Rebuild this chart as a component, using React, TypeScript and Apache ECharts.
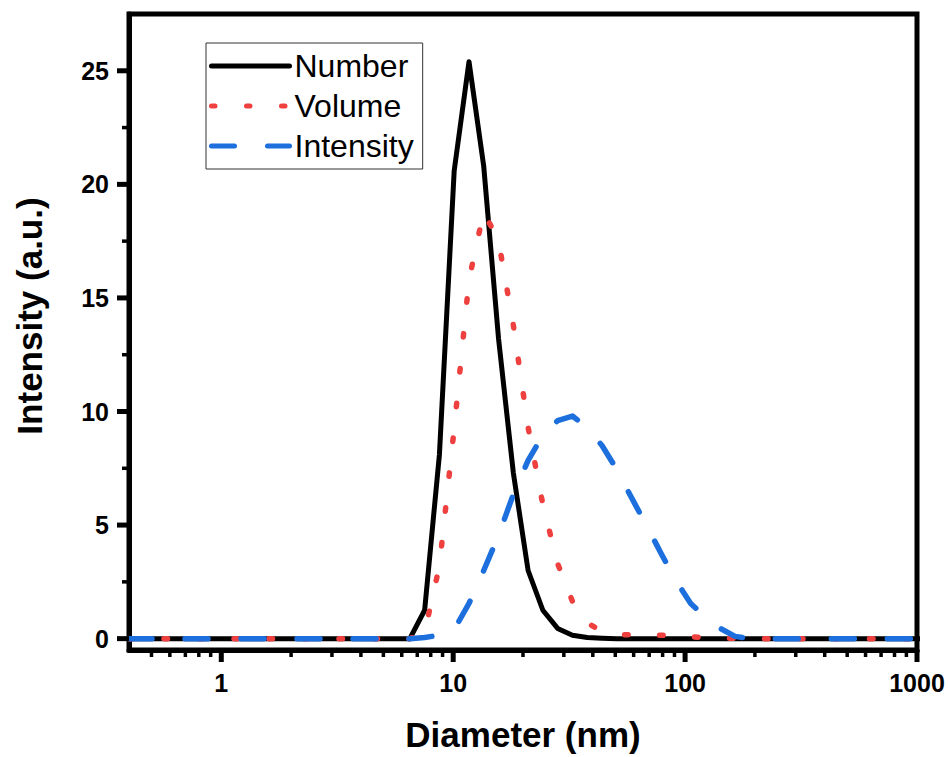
import React, { useEffect, useRef } from 'react';
import * as echarts from 'echarts';

// Size classes (nm)
const diameters = [
  0.4, 0.4632, 0.5365, 0.6213, 0.7195, 0.8332, 0.9649, 1.117, 1.294, 1.499,
  1.736, 2.01, 2.328, 2.696, 3.122, 3.615, 4.187, 4.849, 5.615, 6.503,
  7.531, 8.721, 10.1, 11.7, 13.54, 15.69, 18.17, 21.04, 24.36, 28.21,
  32.67, 37.84, 43.82, 50.75, 58.77, 68.06, 78.82, 91.28, 105.7, 122.4,
  141.8, 164.2, 190.1, 220.2, 255.0, 295.3, 342.0, 396.1, 458.7, 531.2,
  615.1, 712.4, 825.0, 955.4, 1106,
];

const numberDist = [
  0, 0, 0, 0, 0, 0, 0, 0, 0, 0,
  0, 0, 0, 0, 0, 0, 0, 0, 0, 0,
  1.25, 8.1, 20.6, 25.4, 20.8, 13.2, 7.3, 3.0, 1.25, 0.45,
  0.15, 0.05, 0.02, 0, 0, 0, 0, 0, 0, 0,
  0, 0, 0, 0, 0, 0, 0, 0, 0, 0,
  0, 0, 0, 0, 0,
];

const volumeDist = [
  0, 0, 0, 0, 0, 0, 0, 0, 0, 0,
  0, 0, 0, 0, 0, 0, 0, 0, 0, 0,
  0.28, 3.2, 9.25, 15.8, 18.8, 17.5, 13.8, 9.3, 5.9, 3.3,
  1.65, 0.7, 0.32, 0.18, 0.17, 0.17, 0.15, 0.12, 0.08, 0.05,
  0.03, 0.01, 0, 0, 0, 0, 0, 0, 0, 0,
  0, 0, 0, 0, 0,
];

const intensityDist = [
  0, 0, 0, 0, 0, 0, 0, 0, 0, 0,
  0, 0, 0, 0, 0, 0, 0, 0, 0, 0,
  0.05, 0.15, 0.4, 1.55, 3.0, 4.55, 6.35, 7.85, 8.95, 9.6,
  9.8, 9.3, 8.5, 7.45, 6.2, 5.0, 3.75, 2.55, 1.55, 0.95,
  0.45, 0.1, 0, 0, 0, 0, 0, 0, 0, 0,
  0, 0, 0, 0, 0,
];

const seriesNames = ['Number', 'Volume', 'Intensity'];
const xMajorTicks = [1, 10, 100, 1000];
const xMinorTicks = [
  0.5, 0.6, 0.7, 0.8, 0.9,
  2, 3, 4, 5, 6, 7, 8, 9,
  20, 30, 40, 50, 60, 70, 80, 90,
  200, 300, 400, 500, 600, 700, 800, 900,
];
const yMajorTicks = [0, 5, 10, 15, 20, 25];
const yMinorTicks = [2.5, 7.5, 12.5, 17.5, 22.5];

const FONT = 'Arial, "Liberation Sans", sans-serif';

function pairs(values: number[]) {
  return diameters.map((d, i) => [d, values[i]]);
}

const X_MIN = 0.4;
const X_MAX = 1000;
const Y_MIN = -0.5;
const Y_MAX = 27.5;

const MAJOR_LEN = 12;
const MAJOR_W = 5;
const MINOR_LEN = 7;
const MINOR_W = 3.5;

// One custom series draws every tick of both axes through the axes' own scales (api.coord).
// Each item: [x value, y value, axis flag (0 = x axis, 1 = y axis), major flag (1 = major)]
function buildTickItems() {
  const items: number[][] = [];
  xMajorTicks.forEach((v) => items.push([v, Y_MIN, 0, 1]));
  xMinorTicks.forEach((v) => items.push([v, Y_MIN, 0, 0]));
  yMajorTicks.forEach((v) => items.push([X_MIN, v, 1, 1]));
  yMinorTicks.forEach((v) => items.push([X_MIN, v, 1, 0]));
  return items;
}

export default function App() {
  const ref = useRef<HTMLDivElement>(null);

  useEffect(() => {
    if (!ref.current) return;
    const chart = echarts.init(ref.current, null, { renderer: 'svg' });

    const labelStyle = {
      fontSize: 25,
      fontWeight: 'bold',
      color: '#000',
      fontFamily: FONT,
      margin: 20,
    };

    const option: any = {
      animation: false,
      backgroundColor: '#fff',
      textStyle: { fontFamily: FONT },
      grid: {
        left: 129,
        right: 33,
        top: 14,
        bottom: 107,
        show: true,
        borderColor: '#000',
        borderWidth: 5,
        backgroundColor: 'transparent',
      },
      legend: {
        data: seriesNames,
        orient: 'vertical',
        left: 206,
        top: 43,
        itemWidth: 78,
        itemHeight: 30,
        itemGap: 8,
        padding: [7, 9, 7, 3],
        borderColor: '#333',
        borderWidth: 1,
        backgroundColor: '#fff',
        textStyle: { fontSize: 32, color: '#000', fontFamily: FONT },
        lineStyle: { width: 5 },
        itemStyle: { opacity: 0 },
      },
      xAxis: {
        type: 'log',
        logBase: 10,
        min: X_MIN,
        max: X_MAX,
        position: 'bottom',
        name: 'Diameter (nm)',
        nameLocation: 'middle',
        nameGap: 67,
        nameTextStyle: { fontSize: 35, fontWeight: 'bold', color: '#000', fontFamily: FONT },
        axisLine: { show: true, onZero: false, lineStyle: { color: '#000', width: 5 } },
        axisTick: { show: false },
        axisLabel: {
          ...labelStyle,
          customValues: xMajorTicks,
          formatter: (v: number) => String(Math.round(v)),
        },
        splitLine: { show: false },
        minorTick: { show: false },
        minorSplitLine: { show: false },
      },
      yAxis: {
        type: 'value',
        min: Y_MIN,
        max: Y_MAX,
        position: 'left',
        name: 'Intensity (a.u.)',
        nameLocation: 'middle',
        nameGap: 82,
        nameTextStyle: {
          fontSize: 35,
          fontWeight: 'bold',
          color: '#000',
          fontFamily: FONT,
          padding: [0, 0, 0, 32],
        },
        axisLine: { show: true, onZero: false, lineStyle: { color: '#000', width: 5 } },
        axisTick: { show: false },
        axisLabel: {
          ...labelStyle,
          customValues: yMajorTicks,
          formatter: (v: number) => String(v),
        },
        splitLine: { show: false },
      },
      series: [
        {
          name: seriesNames[0],
          type: 'line',
          data: pairs(numberDist),
          symbol: 'none',
          showSymbol: false,
          clip: true,
          itemStyle: { color: '#000' },
          lineStyle: { color: '#000', width: 5, type: 'solid', cap: 'round', join: 'round' },
        },
        {
          name: seriesNames[1],
          type: 'line',
          data: pairs(volumeDist),
          symbol: 'none',
          showSymbol: false,
          clip: true,
          itemStyle: { color: '#EF4040' },
          lineStyle: { color: '#EF4040', width: 5.5, type: [3.5, 31.5], cap: 'round', join: 'round' },
        },
        {
          name: seriesNames[2],
          type: 'line',
          data: pairs(intensityDist),
          symbol: 'none',
          showSymbol: false,
          clip: true,
          itemStyle: { color: '#1C6FDD' },
          lineStyle: { color: '#1C6FDD', width: 5.5, type: [23, 33], cap: 'round', join: 'round' },
        },
        {
          name: 'axisTicks',
          type: 'custom',
          silent: true,
          clip: false,
          z: 100,
          data: buildTickItems(),
          encode: { x: 0, y: 1 },
          renderItem: (_params: any, api: any) => {
            const p = api.coord([api.value(0), api.value(1)]);
            const isY = api.value(2) === 1;
            const isMajor = api.value(3) === 1;
            const len = isMajor ? MAJOR_LEN : MINOR_LEN;
            const w = isMajor ? MAJOR_W : MINOR_W;
            const shape = isY
              ? { x: p[0] - len, y: p[1] - w / 2, width: len, height: w }
              : { x: p[0] - w / 2, y: p[1], width: w, height: len };
            return {
              type: 'rect',
              z2: 100,
              shape,
              style: { fill: '#000' },
            };
          },
        },
      ],
    };

    chart.setOption(option);
    return () => {
      chart.dispose();
    };
  }, []);

  return (
    <div
      ref={ref}
      style={{ position: 'fixed', left: 0, top: 0, width: 950, height: 757, background: '#fff' }}
    />
  );
}
